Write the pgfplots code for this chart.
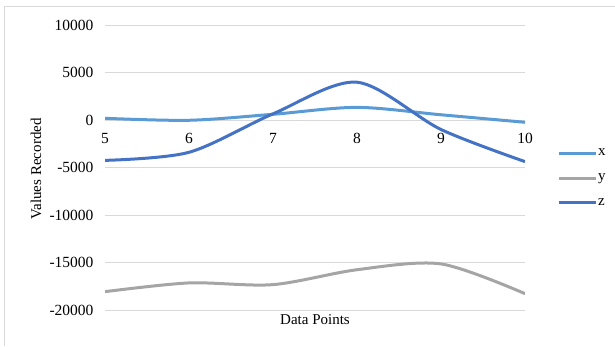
\documentclass[border=0pt]{standalone}
\usepackage{pgfplots}
\pgfplotsset{compat=1.18}
\usepackage{fontspec}
\setmainfont{Liberation Serif}
\definecolor{cx}{HTML}{5B9BD5}
\definecolor{cy}{HTML}{A5A5A5}
\definecolor{cz}{HTML}{4472C4}
\definecolor{gridc}{HTML}{D9D9D9}
\begin{document}
\begin{tikzpicture}[font=\fontsize{15}{17}\selectfont]
\path[use as bounding box] (0,0) rectangle (615pt,346pt);
\draw[gridc, line width=1pt] (4pt,0) -- (4pt,339pt) -- (615pt,339pt);
\begin{axis}[
  at={(105pt,36pt)}, anchor=south west,
  scale only axis, width=420pt, height=285pt,
  xmin=5, xmax=10, ymin=-20000, ymax=10000,
  xtick={5,6,7,8,9,10}, ytick={-20000,-15000,-10000,-5000,0,5000,10000},
  axis x line*=middle, axis y line*=left,
  x axis line style={draw=gridc, line width=1pt},
  y axis line style={draw=none},
  major tick length=0pt,
  hide obscured x ticks=false, hide obscured y ticks=false,
  ymajorgrids, grid style={draw=gridc, line width=1pt},
  scaled y ticks=false,
  /pgf/number format/assume math mode=true,
  yticklabel style={/pgf/number format/fixed, /pgf/number format/1000 sep={}, xshift=-8pt},
  xticklabel style={yshift=-9.5pt},
  tick label style={font=\fontsize{15.5}{17}\selectfont},
  xlabel={Data Points}, ylabel={Values Recorded},
  xlabel style={font=\fontsize{15.5}{17}\selectfont},
  ylabel style={font=\fontsize{14.5}{17}\selectfont},
  every axis x label/.style={at={(axis description cs:0.5,-0.034)}, anchor=center},
  every axis y label/.style={at={(axis description cs:-0.164,0.495)}, rotate=90, anchor=center},
  legend style={at={(axis description cs:1.076,0.463)}, anchor=west, draw=none, fill=none,
    row sep=14.5pt, inner sep=0pt, nodes={inner sep=1pt}, font=\fontsize{15}{17}\selectfont},
  legend cell align=left,
  legend image code/.code={\draw[#1] (0pt,0pt) -- (37pt,0pt);},
]
\addplot[cx, line width=3pt, smooth] coordinates {(5,180) (6,-30) (7,600) (8,1330) (9,550) (10,-240)};
\addlegendentry{x}
\addplot[cy, line width=3pt, smooth] coordinates {(5,-18070) (6,-17150) (7,-17330) (8,-15760) (9,-15150) (10,-18280)};
\addlegendentry{y}
\addplot[cz, line width=3pt, smooth] coordinates {(5,-4250) (6,-3400) (7,650) (8,3980) (9,-1000) (10,-4380)};
\addlegendentry{z}
\end{axis}
\end{tikzpicture}
\end{document}
